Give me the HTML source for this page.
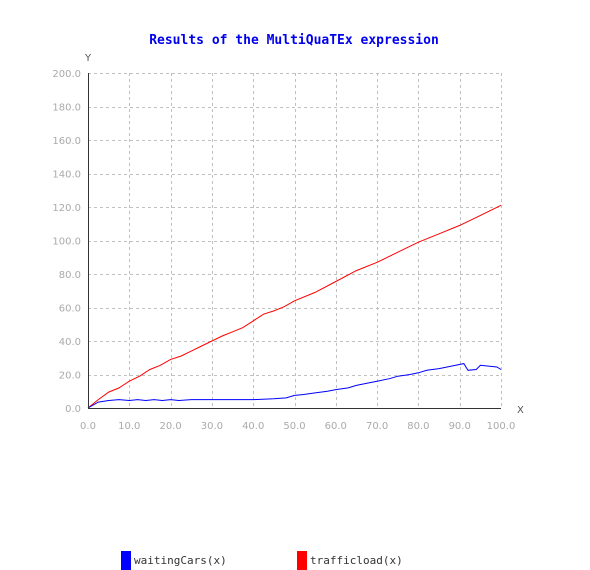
<!DOCTYPE html>
<html><head><meta charset="utf-8"><style>
body{margin:0;background:#fff;width:590px;height:570px;overflow:hidden}
svg{display:block}
</style></head><body>
<svg id="chart" width="590" height="570" xmlns="http://www.w3.org/2000/svg">
<text x="294" y="44" text-anchor="middle" font-family="DejaVu Sans Mono, monospace" font-weight="bold" font-size="13" fill="#0000ee">Results of the MultiQuaTEx expression</text>
<text x="85" y="61" font-family="DejaVu Sans, sans-serif" font-size="10" fill="#555">Y</text>
<text x="517" y="413" font-family="DejaVu Sans, sans-serif" font-size="10" fill="#555">X</text>
<g id="grid"></g><g id="ticks"></g><g id="series"></g>
<line x1="88.5" y1="73" x2="88.5" y2="408" stroke="#333" stroke-width="1"/>
<line x1="88" y1="408.5" x2="501" y2="408.5" stroke="#333" stroke-width="1"/>
<rect x="121" y="551" width="10" height="19" fill="#0000ff"/>
<text x="134" y="564" font-family="DejaVu Sans Mono, monospace" font-size="11" fill="#333">waitingCars(x)</text>
<rect x="297" y="551" width="10" height="19" fill="#ff0000"/>
<text x="310" y="564" font-family="DejaVu Sans Mono, monospace" font-size="11" fill="#333">trafficload(x)</text>
</svg>
<script>
const xTicks=[0,10,20,30,40,50,60,70,80,90,100];
const yTicks=[0,20,40,60,80,100,120,140,160,180,200];
const redX=[0,2.5,5,7.5,10,12.5,15,17.5,20,22.5,25,27.5,30,32.5,35,37.5,40,42.5,45,47.5,50,55,60,65,70,75,80,85,90,95,100];
const redY=[0,5,9.5,12,16,19,23,25.5,29,31,34,37,40,43,45.5,48,52,56,58,60.5,64,69,75.5,82,87,93,99,104,109,115,121];
const blueX=[0,2.5,5,7.5,10,12,14,16,18,20,22,25,30,35,40,45,48,50,52,55,58,60,63,65,68,70,73,75,78,80,82,85,88,91,92,94,95,97,99,100];
const blueY=[0,3.5,4.5,5,4.5,5,4.5,5,4.5,5,4.5,5,5,5,5,5.5,6,7.5,8,9,10,11,12,13.5,15,16,17.5,19,20,21,22.5,23.5,25,26.5,22.5,23,25.5,25,24.5,23];
const NS='http://www.w3.org/2000/svg';
const sx=v=>88+v*(501-88)/100, sy=v=>408-v*(408-73)/200;
const grid=document.getElementById('grid'),ticks=document.getElementById('ticks'),ser=document.getElementById('series');
function mk(tag,attrs,parent){const e=document.createElementNS(NS,tag);for(const k in attrs)e.setAttribute(k,attrs[k]);parent.appendChild(e);return e;}
xTicks.forEach(t=>{
  const l=mk('line',{x1:Math.round(sx(t))+0.5,x2:Math.round(sx(t))+0.5,y1:73,y2:408,stroke:'#c0c0c0','stroke-dasharray':'3,3'},grid);
  
  
  const tx=mk('text',{x:sx(t),y:429,'text-anchor':'middle','font-family':'DejaVu Sans, sans-serif','font-size':'10',fill:'#aaa'},ticks);
  tx.textContent=t.toFixed(1);
  
  
});
yTicks.forEach(t=>{
  const l=mk('line',{x1:88,x2:501,y1:Math.round(sy(t))+0.5,y2:Math.round(sy(t))+0.5,stroke:'#c0c0c0','stroke-dasharray':'3,3'},grid);
  
  
  const tx=mk('text',{x:81,y:sy(t)+4,'text-anchor':'end','font-family':'DejaVu Sans, sans-serif','font-size':'10',fill:'#aaa'},ticks);
  tx.textContent=t.toFixed(1);
  
  
});
function line(xs,ys,color,name){
  const p=mk('polyline',{points:xs.map((x,i)=>sx(x).toFixed(1)+','+sy(ys[i]).toFixed(1)).join(' '),fill:'none',stroke:color,'stroke-width':'1'},ser);
  
  
}
line(redX,redY,'#ff0000','trafficload-line');
line(blueX,blueY,'#0000ff','waitingcars-line');
</script>
</body></html>
